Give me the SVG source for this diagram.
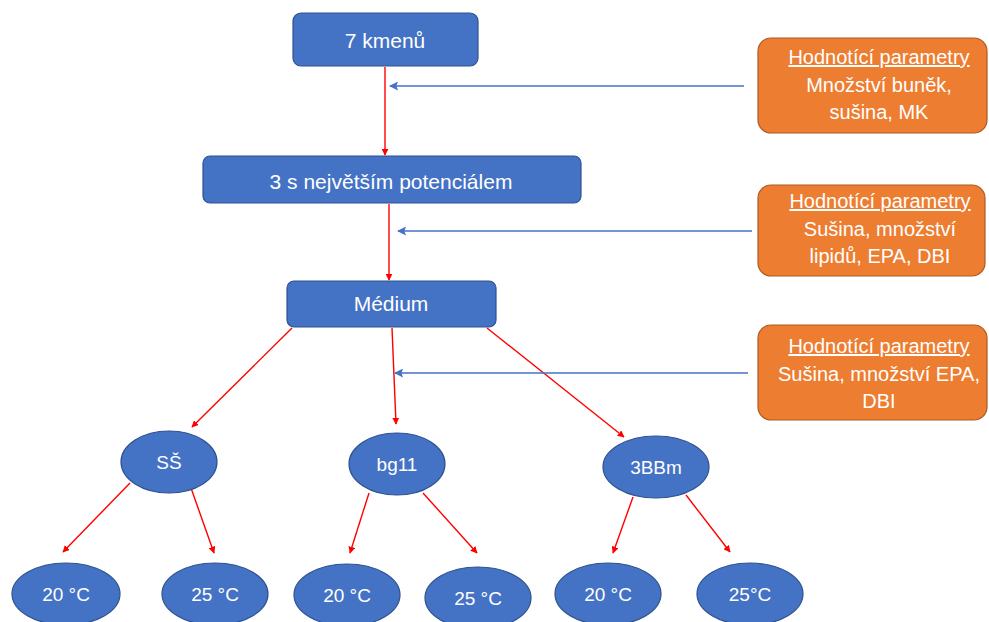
<svg xmlns="http://www.w3.org/2000/svg" width="989" height="622" viewBox="0 0 989 622">
<style>
.node{fill:#4472C4;stroke:#2F528F;stroke-width:1.2}
.param{fill:#ED7D31;stroke:#AE5A21;stroke-width:1.2}
.t{font-family:"Liberation Sans",Arial,sans-serif;font-size:19px;fill:#fff;text-anchor:middle;dominant-baseline:central}
.tb{font-size:21px}
.pt{font-family:"Liberation Sans",Arial,sans-serif;font-size:20px;fill:#fff;text-anchor:middle}
.red{stroke:#FF0000;stroke-width:1.4;fill:none;marker-end:url(#ar)}
.blue{stroke:#4472C4;stroke-width:1.5;fill:none;marker-end:url(#ab)}
</style>
<defs>
<marker id="ar" viewBox="0 0 10 10" refX="9" refY="5" markerWidth="7" markerHeight="7" markerUnits="userSpaceOnUse" orient="auto">
<path d="M0,0 L10,5 L0,10 z" fill="#FF0000"/>
</marker>
<marker id="ab" viewBox="0 0 10 10" refX="9" refY="5" markerWidth="9" markerHeight="9" markerUnits="userSpaceOnUse" orient="auto">
<path d="M0,0 L10,5 L0,10 L2,5 z" fill="#4472C4"/>
</marker>
</defs>

<g id="connectors">
<line class="red" x1="385" y1="67" x2="385" y2="155"/>
<line class="red" x1="389" y1="204" x2="389" y2="280"/>
<line class="red" x1="292" y1="328" x2="192" y2="427"/>
<line class="red" x1="392" y1="328" x2="396" y2="424"/>
<line class="red" x1="487" y1="328" x2="624" y2="437"/>
<line class="red" x1="130" y1="483" x2="63" y2="552"/>
<line class="red" x1="191" y1="488" x2="214" y2="553"/>
<line class="red" x1="369" y1="493" x2="350" y2="553"/>
<line class="red" x1="423" y1="493" x2="477" y2="553"/>
<line class="red" x1="633" y1="497" x2="613" y2="553"/>
<line class="red" x1="686" y1="495" x2="730" y2="552"/>
<line class="blue" x1="744" y1="86" x2="390" y2="86"/>
<line class="blue" x1="752" y1="231" x2="398" y2="231"/>
<line class="blue" x1="748" y1="373" x2="395" y2="373"/>
</g>

<g id="n-7kmenu">
<rect class="node" x="293" y="13" width="185" height="53" rx="8"/>
<text class="t tb" x="385" y="40">7 kmenů</text>
</g>
<g id="n-3s">
<rect class="node" x="203" y="156" width="378" height="47" rx="7"/>
<text class="t tb" x="391" y="181">3 s největším potenciálem</text>
</g>
<g id="n-medium">
<rect class="node" x="287" y="281" width="209" height="46" rx="7"/>
<text class="t tb" x="391" y="303">Médium</text>
</g>

<g id="p1">
<rect class="param" x="758" y="38" width="229" height="95" rx="13"/>
<text class="pt" x="879" y="64" text-decoration="underline">Hodnotící parametry</text>
<text class="pt" x="879" y="92">Množství buněk,</text>
<text class="pt" x="879" y="119">sušina, MK</text>
</g>
<g id="p2">
<rect class="param" x="758" y="185" width="227" height="91" rx="13"/>
<text class="pt" x="880" y="208" text-decoration="underline">Hodnotící parametry</text>
<text class="pt" x="880" y="236">Sušina, množství</text>
<text class="pt" x="880" y="263">lipidů, EPA, DBI</text>
</g>
<g id="p3">
<rect class="param" x="758" y="325" width="229" height="95" rx="13"/>
<text class="pt" x="879" y="353" text-decoration="underline">Hodnotící parametry</text>
<text class="pt" x="879" y="381">Sušina, množství EPA,</text>
<text class="pt" x="879" y="408">DBI</text>
</g>

<g id="n-ss">
<ellipse class="node" cx="169" cy="462" rx="48" ry="31"/>
<text class="t" x="169" y="462">SŠ</text>
</g>
<g id="n-bg11">
<ellipse class="node" cx="397" cy="464" rx="48" ry="31"/>
<text class="t" x="397" y="464">bg11</text>
</g>
<g id="n-3bbm">
<ellipse class="node" cx="656" cy="467" rx="53" ry="31"/>
<text class="t" x="656" y="467">3BBm</text>
</g>

<g id="n-ss-20">
<ellipse class="node" cx="66" cy="594" rx="54" ry="31"/>
<text class="t" x="66" y="594">20 °C</text>
</g>
<g id="n-ss-25">
<ellipse class="node" cx="215" cy="594" rx="53" ry="31"/>
<text class="t" x="215" y="594">25 °C</text>
</g>
<g id="n-bg-20">
<ellipse class="node" cx="347" cy="595" rx="53" ry="31"/>
<text class="t" x="347" y="595">20 °C</text>
</g>
<g id="n-bg-25">
<ellipse class="node" cx="478" cy="598" rx="53" ry="31"/>
<text class="t" x="478" y="598">25 °C</text>
</g>
<g id="n-bb-20">
<ellipse class="node" cx="608" cy="594" rx="53" ry="31"/>
<text class="t" x="608" y="594">20 °C</text>
</g>
<g id="n-bb-25">
<ellipse class="node" cx="750" cy="594" rx="53" ry="31"/>
<text class="t" x="750" y="594">25°C</text>
</g>
</svg>
